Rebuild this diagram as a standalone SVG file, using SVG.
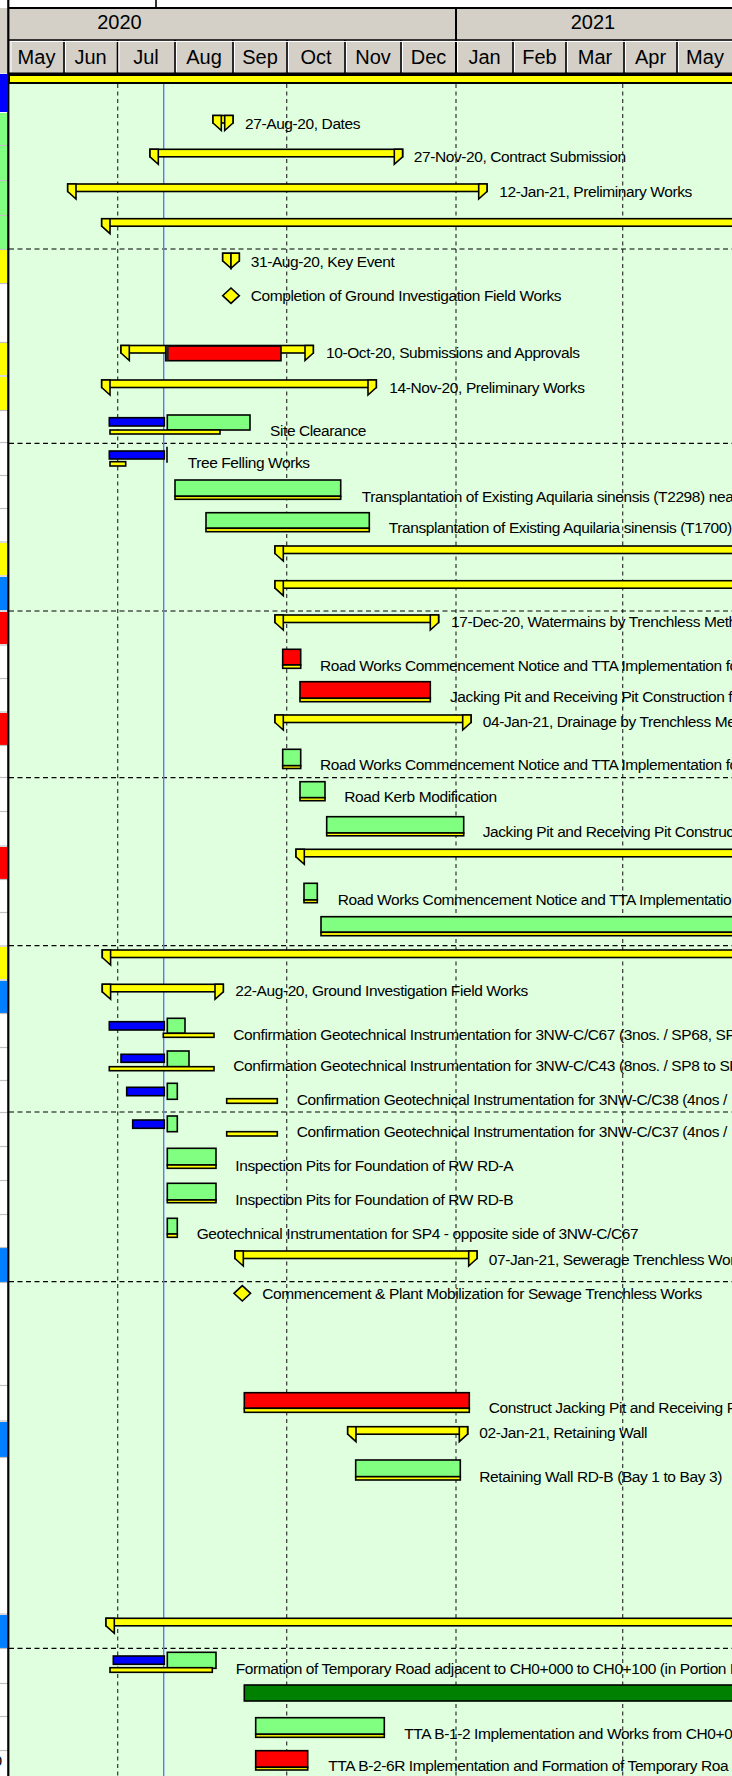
<svg xmlns="http://www.w3.org/2000/svg" width="732" height="1776" viewBox="0 0 732 1776">
<style>
.t{font-family:"Liberation Sans",Arial,Helvetica,sans-serif;font-size:15.5px;letter-spacing:-0.4px;fill:#000}
.h{font-family:"Liberation Sans",Arial,Helvetica,sans-serif;font-size:20px;fill:#000;text-anchor:middle}
.y{fill:#ffff00;stroke:#000;stroke-width:1.6}
.g{fill:#80ff80;stroke:#000;stroke-width:1.6}
.r{fill:#ff0000;stroke:#000;stroke-width:1.6}
.b{fill:#0000ff;stroke:#000;stroke-width:1.6}
.dg{fill:#008000;stroke:#000;stroke-width:1.6}
.vd{stroke:#333;stroke-width:1.2;stroke-dasharray:4 3.5;fill:none}
.hd{stroke:#000;stroke-width:1.2;stroke-dasharray:5 3.5;fill:none}
.sep{stroke:#c0c0c0;stroke-width:1.2}
.hl{stroke:#000;stroke-width:1.6}
.wl{stroke:#fff;stroke-width:1}
</style>
<rect x="0" y="0" width="732" height="1776" fill="#fff"/>
<g id="header">
<rect x="0" y="8" width="732" height="65.5" fill="#d4d0c8"/>
<line x1="156" y1="0" x2="156" y2="8" class="hl"/>
<line x1="8" y1="8" x2="732" y2="8" stroke="#000" stroke-width="2"/>
<line x1="9" y1="40" x2="732" y2="40" class="hl"/>
<line x1="9" y1="73.5" x2="732" y2="73.5" stroke="#000" stroke-width="2"/>
<line x1="456" y1="8" x2="456" y2="73" stroke="#000" stroke-width="2"/>
<g class="hl">
<line x1="64" y1="40" x2="64" y2="73"/><line x1="117.5" y1="40" x2="117.5" y2="73"/><line x1="175" y1="40" x2="175" y2="73"/><line x1="233" y1="40" x2="233" y2="73"/><line x1="287" y1="40" x2="287" y2="73"/><line x1="345" y1="40" x2="345" y2="73"/><line x1="401" y1="40" x2="401" y2="73"/><line x1="513" y1="40" x2="513" y2="73"/><line x1="566" y1="40" x2="566" y2="73"/><line x1="624" y1="40" x2="624" y2="73"/><line x1="677" y1="40" x2="677" y2="73"/>
</g>
<g class="wl">
<line x1="11" y1="42" x2="11" y2="72"/><line x1="65.5" y1="42" x2="65.5" y2="72"/><line x1="119" y1="42" x2="119" y2="72"/><line x1="176.5" y1="42" x2="176.5" y2="72"/><line x1="234.5" y1="42" x2="234.5" y2="72"/><line x1="288.5" y1="42" x2="288.5" y2="72"/><line x1="346.5" y1="42" x2="346.5" y2="72"/><line x1="402.5" y1="42" x2="402.5" y2="72"/><line x1="457.5" y1="42" x2="457.5" y2="72"/><line x1="514.5" y1="42" x2="514.5" y2="72"/><line x1="567.5" y1="42" x2="567.5" y2="72"/><line x1="625.5" y1="42" x2="625.5" y2="72"/><line x1="678.5" y1="42" x2="678.5" y2="72"/>
<line x1="10" y1="41.5" x2="732" y2="41.5"/>
</g>
<text class="h" x="119.5" y="28.5">2020</text>
<text class="h" x="593" y="28.5">2021</text>
<text class="h" x="36.5" y="63.5">May</text>
<text class="h" x="90.5" y="63.5">Jun</text>
<text class="h" x="146" y="63.5">Jul</text>
<text class="h" x="204" y="63.5">Aug</text>
<text class="h" x="260" y="63.5">Sep</text>
<text class="h" x="316" y="63.5">Oct</text>
<text class="h" x="373" y="63.5">Nov</text>
<text class="h" x="428.5" y="63.5">Dec</text>
<text class="h" x="484.5" y="63.5">Jan</text>
<text class="h" x="539.5" y="63.5">Feb</text>
<text class="h" x="595" y="63.5">Mar</text>
<text class="h" x="650.5" y="63.5">Apr</text>
<text class="h" x="705" y="63.5">May</text>
</g>
<rect x="9" y="84" width="723" height="1692" fill="#dfffdf"/>
<g id="left-strip">
<rect x="0" y="74" width="7.5" height="38" fill="#0000ff"/>
<rect x="0" y="113" width="7.5" height="136" fill="#80ff80"/>
<rect x="0" y="250" width="7.5" height="33" fill="#ffff00"/>
<rect x="0" y="343" width="7.5" height="32" fill="#ffff00"/>
<rect x="0" y="377" width="7.5" height="33" fill="#ffff00"/>
<rect x="0" y="543" width="7.5" height="32" fill="#ffff00"/>
<rect x="0" y="577" width="7.5" height="33" fill="#0080ff"/>
<rect x="0" y="612" width="7.5" height="32" fill="#ff0000"/>
<rect x="0" y="713" width="7.5" height="32" fill="#ff0000"/>
<rect x="0" y="847" width="7.5" height="32" fill="#ff0000"/>
<rect x="0" y="947" width="7.5" height="32" fill="#ffff00"/>
<rect x="0" y="981" width="7.5" height="32" fill="#0080ff"/>
<rect x="0" y="1248" width="7.5" height="34" fill="#0080ff"/>
<rect x="0" y="1422" width="7.5" height="35" fill="#0080ff"/>
<rect x="0" y="1615" width="7.5" height="33" fill="#0080ff"/>
<g class="sep">
<line x1="0" y1="145.5" x2="8" y2="145.5"/><line x1="0" y1="180.5" x2="8" y2="180.5"/><line x1="0" y1="215.5" x2="8" y2="215.5"/><line x1="0" y1="249.5" x2="8" y2="249.5"/><line x1="0" y1="283.5" x2="8" y2="283.5"/><line x1="0" y1="342.5" x2="8" y2="342.5"/><line x1="0" y1="376" x2="8" y2="376"/><line x1="0" y1="410.5" x2="8" y2="410.5"/><line x1="0" y1="442.5" x2="8" y2="442.5"/><line x1="0" y1="475.5" x2="8" y2="475.5"/><line x1="0" y1="508.5" x2="8" y2="508.5"/><line x1="0" y1="542" x2="8" y2="542"/><line x1="0" y1="576" x2="8" y2="576"/><line x1="0" y1="611" x2="8" y2="611"/><line x1="0" y1="645" x2="8" y2="645"/><line x1="0" y1="678.5" x2="8" y2="678.5"/><line x1="0" y1="712" x2="8" y2="712"/><line x1="0" y1="745.5" x2="8" y2="745.5"/><line x1="0" y1="777.5" x2="8" y2="777.5"/><line x1="0" y1="811.5" x2="8" y2="811.5"/><line x1="0" y1="846" x2="8" y2="846"/><line x1="0" y1="879.5" x2="8" y2="879.5"/><line x1="0" y1="912.5" x2="8" y2="912.5"/><line x1="0" y1="946" x2="8" y2="946"/><line x1="0" y1="980" x2="8" y2="980"/><line x1="0" y1="1013.5" x2="8" y2="1013.5"/><line x1="0" y1="1047.5" x2="8" y2="1047.5"/><line x1="0" y1="1080.5" x2="8" y2="1080.5"/><line x1="0" y1="1112.5" x2="8" y2="1112.5"/><line x1="0" y1="1146.5" x2="8" y2="1146.5"/><line x1="0" y1="1180.5" x2="8" y2="1180.5"/><line x1="0" y1="1214.5" x2="8" y2="1214.5"/><line x1="0" y1="1247.5" x2="8" y2="1247.5"/><line x1="0" y1="1282.5" x2="8" y2="1282.5"/><line x1="0" y1="1385.5" x2="8" y2="1385.5"/><line x1="0" y1="1421" x2="8" y2="1421"/><line x1="0" y1="1457.5" x2="8" y2="1457.5"/><line x1="0" y1="1614" x2="8" y2="1614"/><line x1="0" y1="1648.5" x2="8" y2="1648.5"/><line x1="0" y1="1683.5" x2="8" y2="1683.5"/><line x1="0" y1="1716.5" x2="8" y2="1716.5"/><line x1="0" y1="1750.5" x2="8" y2="1750.5"/>
</g>
<text class="t" x="-6.5" y="1766">0</text>
</g>
<line x1="8.3" y1="0" x2="8.3" y2="1776" stroke="#000" stroke-width="2.2"/>
<g id="grid">
<line class="vd" x1="117.7" y1="84" x2="117.7" y2="1776"/>
<line class="vd" x1="286.7" y1="84" x2="286.7" y2="1776"/>
<line class="vd" x1="456" y1="84" x2="456" y2="1776"/>
<line class="vd" x1="622.7" y1="84" x2="622.7" y2="1776"/>
<line class="hd" x1="9" y1="249" x2="732" y2="249"/>
<line class="hd" x1="9" y1="443.3" x2="732" y2="443.3"/>
<line class="hd" x1="9" y1="611" x2="732" y2="611"/>
<line class="hd" x1="9" y1="777.7" x2="732" y2="777.7"/>
<line class="hd" x1="9" y1="945.7" x2="732" y2="945.7"/>
<line class="hd" x1="9" y1="1112" x2="732" y2="1112"/>
<line class="hd" x1="9" y1="1281.7" x2="732" y2="1281.7"/>
<line class="hd" x1="9" y1="1648.3" x2="732" y2="1648.3"/>
<line x1="163.7" y1="84" x2="163.7" y2="1776" stroke="#5a78ff" stroke-width="1.4"/>
</g>
<rect x="9" y="75" width="725" height="8" fill="#ffff00" stroke="#000" stroke-width="2"/>
<g id="connectors"></g>
<g id="n-dates">
<rect class="y" x="213" y="115.5" width="20" height="7.5"/>
<polygon class="y" points="213,115.5 221.3,115.5 221.3,130.5 213,123"/>
<polygon class="y" points="224.7,115.5 233,115.5 233,123 224.7,130.5"/>
<text class="t" x="245" y="128.8">27-Aug-20, Dates</text>
</g>
<g id="n-contract-submission">
<rect class="y" x="150" y="149.3" width="252.6" height="7.5"/>
<polygon class="y" points="150,149.3 158.3,149.3 158.3,164.3 150,156.8"/>
<polygon class="y" points="394.3,149.3 402.6,149.3 402.6,156.8 394.3,164.3"/>
<text class="t" x="413.7" y="162.2">27-Nov-20, Contract Submission</text>
</g>
<g id="n-preliminary-works-1">
<rect class="y" x="67.7" y="184" width="419.3" height="7.5"/>
<polygon class="y" points="67.7,184 76,184 76,199 67.7,191.5"/>
<polygon class="y" points="478.7,184 487,184 487,191.5 478.7,199"/>
<text class="t" x="499.3" y="197.2">12-Jan-21, Preliminary Works</text>
</g>
<g id="n-summary-1">
<rect class="y" x="101.7" y="218.7" width="640" height="7.5"/>
<polygon class="y" points="101.7,218.7 110,218.7 110,233.7 101.7,226.2"/>
</g>
<g id="n-key-event">
<rect class="y" x="222.7" y="253.3" width="16.6" height="7.5"/>
<polygon class="y" points="222.7,253.3 231,253.3 231,268.3 222.7,260.8"/>
<polygon class="y" points="231,253.3 239.3,253.3 239.3,260.8 231,268.3"/>
<text class="t" x="250.7" y="267.2">31-Aug-20, Key Event</text>
</g>
<g id="n-completion-gi">
<polygon class="y" points="231,288 239.3,295.7 231,303.4 222.7,295.7"/>
<text class="t" x="250.7" y="301.2">Completion of Ground Investigation Field Works</text>
</g>
<g id="n-submissions">
<rect class="y" x="121" y="345.5" width="192.3" height="7.5"/>
<rect class="r" x="165.7" y="346" width="115.3" height="14.7"/>
<rect x="165.7" y="346" width="3" height="14.7" fill="#222"/>
<polygon class="y" points="121,345.5 129.3,345.5 129.3,360.5 121,353"/>
<polygon class="y" points="305,345.5 313.3,345.5 313.3,353 305,360.5"/>
<text class="t" x="326" y="357.8">10-Oct-20, Submissions and Approvals</text>
</g>
<g id="n-preliminary-works-2">
<rect class="y" x="101.7" y="380" width="274.6" height="7.5"/>
<polygon class="y" points="101.7,380 110,380 110,395 101.7,387.5"/>
<polygon class="y" points="368,380 376.3,380 376.3,387.5 368,395"/>
<text class="t" x="389.3" y="393.2">14-Nov-20, Preliminary Works</text>
</g>
<g id="n-site-clearance">
<rect class="b" x="109.3" y="417.7" width="55" height="8.3"/>
<rect class="g" x="167.3" y="415" width="82.7" height="15"/>
<rect class="y" x="110" y="430" width="110" height="4"/>
<text class="t" x="270" y="435.5">Site Clearance</text>
</g>
<g id="n-tree-felling">
<rect class="b" x="109.3" y="451" width="55" height="8"/>
<line x1="167" y1="446.7" x2="167" y2="462.7" stroke="#000" stroke-width="1.6"/>
<rect class="y" x="110" y="461.7" width="15.7" height="4.3"/>
<text class="t" x="187.7" y="468.2">Tree Felling Works</text>
</g>
<g id="n-t2298">
<rect class="g" x="175" y="480" width="165.7" height="16.3"/>
<rect class="y" x="175" y="496.3" width="165.7" height="3"/>
<text class="t" x="361.7" y="502.2">Transplantation of Existing Aquilaria sinensis (T2298) near</text>
</g>
<g id="n-t1700">
<rect class="g" x="206" y="512.7" width="163.3" height="15.6"/>
<rect class="y" x="206" y="528.3" width="163.3" height="3.4"/>
<text class="t" x="388.7" y="533.2">Transplantation of Existing Aquilaria sinensis (T1700)</text>
</g>
<g id="n-summary-2">
<rect class="y" x="275" y="546" width="467" height="7.5"/>
<polygon class="y" points="275,546 283.3,546 283.3,561 275,553.5"/>
</g>
<g id="n-summary-3">
<rect class="y" x="275" y="580.7" width="467" height="7.5"/>
<polygon class="y" points="275,580.7 283.3,580.7 283.3,595.7 275,588.2"/>
</g>
<g id="n-watermains">
<rect class="y" x="275" y="615" width="163.6" height="7.5"/>
<polygon class="y" points="275,615 283.3,615 283.3,630 275,622.5"/>
<polygon class="y" points="430.3,615 438.6,615 438.6,622.5 430.3,630"/>
<text class="t" x="451" y="627.2">17-Dec-20, Watermains by Trenchless Meth</text>
</g>
<g id="n-road-works-1">
<rect class="r" x="282.7" y="649.3" width="18" height="15.7"/>
<rect class="y" x="282.7" y="665" width="18" height="3.3"/>
<text class="t" x="320" y="670.5">Road Works Commencement Notice and TTA Implementation fo</text>
</g>
<g id="n-jacking-pit-1">
<rect class="r" x="300" y="681.7" width="130.3" height="16.6"/>
<rect class="y" x="300" y="698.3" width="130.3" height="3.4"/>
<text class="t" x="450" y="702.2">Jacking Pit and Receiving Pit Construction f</text>
</g>
<g id="n-drainage">
<rect class="y" x="275" y="715" width="196" height="7.5"/>
<polygon class="y" points="275,715 283.3,715 283.3,730 275,722.5"/>
<polygon class="y" points="462.7,715 471,715 471,722.5 462.7,730"/>
<text class="t" x="482.7" y="726.5">04-Jan-21, Drainage by Trenchless Me</text>
</g>
<g id="n-road-works-2">
<rect class="g" x="282.7" y="749.3" width="18" height="16.4"/>
<rect class="y" x="282.7" y="765.7" width="18" height="2.8"/>
<text class="t" x="320" y="769.8">Road Works Commencement Notice and TTA Implementation fo</text>
</g>
<g id="n-road-kerb">
<rect class="g" x="300" y="781.7" width="25" height="16"/>
<rect class="y" x="300" y="797.7" width="25" height="3"/>
<text class="t" x="344.3" y="802.2">Road Kerb Modification</text>
</g>
<g id="n-jacking-pit-2">
<rect class="g" x="326.7" y="816.7" width="137" height="16.3"/>
<rect class="y" x="326.7" y="833" width="137" height="2.8"/>
<text class="t" x="482.7" y="837.2">Jacking Pit and Receiving Pit Construc</text>
</g>
<g id="n-summary-4">
<rect class="y" x="296" y="849.3" width="446" height="7.5"/>
<polygon class="y" points="296,849.3 304.3,849.3 304.3,864.3 296,856.8"/>
</g>
<g id="n-road-works-3">
<rect class="g" x="304" y="883.3" width="13.3" height="16.7"/>
<rect class="y" x="304" y="900" width="13.3" height="2.7"/>
<text class="t" x="337.7" y="904.5">Road Works Commencement Notice and TTA Implementatio</text>
</g>
<g id="n-long-green">
<rect class="g" x="321" y="916.7" width="421" height="15.6"/>
<rect class="y" x="321" y="932.3" width="421" height="3.4"/>
</g>
<g id="n-summary-5">
<rect class="y" x="102.3" y="950" width="640" height="7.5"/>
<polygon class="y" points="102.3,950 110.6,950 110.6,965 102.3,957.5"/>
</g>
<g id="n-gi-field-works">
<rect class="y" x="102.3" y="984.3" width="121" height="7.5"/>
<polygon class="y" points="102.3,984.3 110.6,984.3 110.6,999.3 102.3,991.8"/>
<polygon class="y" points="215,984.3 223.3,984.3 223.3,991.8 215,999.3"/>
<text class="t" x="235.3" y="996.2">22-Aug-20, Ground Investigation Field Works</text>
</g>
<g id="n-c67">
<rect class="b" x="109.3" y="1021.7" width="55" height="8.3"/>
<rect class="g" x="167.3" y="1018.3" width="17.7" height="15"/>
<rect class="y" x="163.3" y="1033.3" width="50.7" height="4"/>
<text class="t" x="233.3" y="1039.5">Confirmation Geotechnical Instrumentation for 3NW-C/C67 (3nos. / SP68, SP</text>
</g>
<g id="n-c43">
<rect class="b" x="121" y="1054.3" width="43.3" height="8"/>
<rect class="g" x="167.3" y="1051" width="21.7" height="15.7"/>
<rect class="y" x="109.3" y="1066.7" width="104.7" height="4"/>
<text class="t" x="233.3" y="1071.2">Confirmation Geotechnical Instrumentation for 3NW-C/C43 (8nos. / SP8 to SP</text>
</g>
<g id="n-c38">
<rect class="b" x="126.7" y="1087.3" width="37.6" height="8.4"/>
<rect class="g" x="167.3" y="1083.3" width="10" height="16"/>
<rect class="y" x="226.7" y="1098.7" width="50.6" height="4.6"/>
<text class="t" x="296.7" y="1104.5">Confirmation Geotechnical Instrumentation for 3NW-C/C38 (4nos /</text>
</g>
<g id="n-c37">
<rect class="b" x="132.7" y="1120" width="31.6" height="8.3"/>
<rect class="g" x="167.3" y="1116" width="10" height="15.7"/>
<rect class="y" x="226.7" y="1131.7" width="50.6" height="4.3"/>
<text class="t" x="296.7" y="1136.5">Confirmation Geotechnical Instrumentation for 3NW-C/C37 (4nos /</text>
</g>
<g id="n-pits-rd-a">
<rect class="g" x="167.3" y="1148.3" width="48.7" height="16.7"/>
<rect class="y" x="167.3" y="1165" width="48.7" height="3.3"/>
<text class="t" x="235.3" y="1170.5">Inspection Pits for Foundation of RW RD-A</text>
</g>
<g id="n-pits-rd-b">
<rect class="g" x="167.3" y="1183.3" width="48.7" height="16.7"/>
<rect class="y" x="167.3" y="1200" width="48.7" height="2.7"/>
<text class="t" x="235.3" y="1204.5">Inspection Pits for Foundation of RW RD-B</text>
</g>
<g id="n-sp4">
<rect class="g" x="167.3" y="1218.3" width="10" height="15.7"/>
<rect class="y" x="167.3" y="1234" width="10" height="3.3"/>
<text class="t" x="196.7" y="1238.8">Geotechnical Instrumentation for SP4 - opposite side of 3NW-C/C67</text>
</g>
<g id="n-sewerage">
<rect class="y" x="235" y="1251" width="242" height="7.5"/>
<polygon class="y" points="235,1251 243.3,1251 243.3,1266 235,1258.5"/>
<polygon class="y" points="468.7,1251 477,1251 477,1258.5 468.7,1266"/>
<text class="t" x="488.7" y="1264.5">07-Jan-21, Sewerage Trenchless Wor</text>
</g>
<g id="n-commencement">
<polygon class="y" points="242.3,1285.6 250.6,1293.3 242.3,1301 234,1293.3"/>
<text class="t" x="262.3" y="1298.8">Commencement &amp; Plant Mobilization for Sewage Trenchless Works</text>
</g>
<g id="n-construct-jacking">
<rect class="r" x="244.3" y="1392.7" width="225" height="15.6"/>
<rect class="y" x="244.3" y="1408.3" width="225" height="4"/>
<text class="t" x="488.7" y="1412.8">Construct Jacking Pit and Receiving P</text>
</g>
<g id="n-retaining-wall">
<rect class="y" x="347.7" y="1426.7" width="120" height="7.5"/>
<polygon class="y" points="347.7,1426.7 356,1426.7 356,1441.7 347.7,1434.2"/>
<polygon class="y" points="459.3,1426.7 467.6,1426.7 467.6,1434.2 459.3,1441.7"/>
<text class="t" x="479.3" y="1437.8">02-Jan-21, Retaining Wall</text>
</g>
<g id="n-rw-rd-b">
<rect class="g" x="355.7" y="1460" width="104.6" height="16.7"/>
<rect class="y" x="355.7" y="1476.7" width="104.6" height="3.3"/>
<text class="t" x="479.3" y="1481.5">Retaining Wall RD-B (Bay 1 to Bay 3)</text>
</g>
<g id="n-summary-6">
<rect class="y" x="106" y="1618.3" width="636" height="7.5"/>
<polygon class="y" points="106,1618.3 114.3,1618.3 114.3,1633.3 106,1625.8"/>
</g>
<g id="n-temp-road">
<rect class="b" x="113.3" y="1656" width="51" height="8.3"/>
<rect class="g" x="167.3" y="1652.3" width="48.7" height="16"/>
<rect class="y" x="110" y="1667.7" width="102.3" height="4.6"/>
<text class="t" x="235.7" y="1673.8">Formation of Temporary Road adjacent to CH0+000 to CH0+100 (in Portion B</text>
</g>
<g id="n-dark-green">
<rect class="dg" x="244.3" y="1685" width="498" height="16"/>
</g>
<g id="n-tta-b12">
<rect class="g" x="255.7" y="1717.7" width="128.6" height="16.6"/>
<rect class="y" x="255.7" y="1734.3" width="128.6" height="3"/>
<text class="t" x="404.3" y="1738.8">TTA B-1-2 Implementation and Works from CH0+0</text>
</g>
<g id="n-tta-b26r">
<rect class="r" x="255.7" y="1750.7" width="52" height="16.6"/>
<rect class="y" x="255.7" y="1767.3" width="52" height="2.7"/>
<text class="t" x="328.3" y="1771.2">TTA B-2-6R Implementation and Formation of Temporary Roa</text>
</g>
</svg>
